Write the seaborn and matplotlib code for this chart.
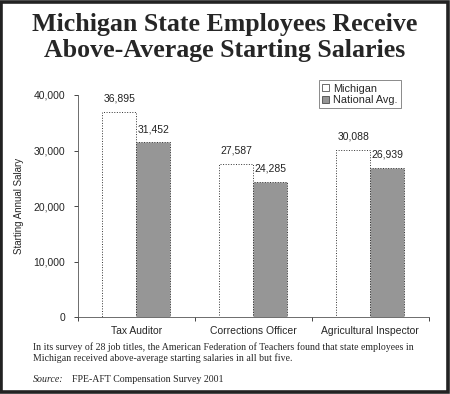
import pandas as pd
import seaborn as sns
import matplotlib.pyplot as plt
from matplotlib.patches import Rectangle
from matplotlib.ticker import FuncFormatter

puestos = ["Tax Auditor", "Corrections Officer", "Agricultural Inspector"]
michigan = [36895, 27587, 30088]
nacional = [31452, 24285, 26939]
series = ["Michigan", "National Avg."]

df = pd.DataFrame({
    "puesto": puestos * 2,
    "serie": [series[0]] * 3 + [series[1]] * 3,
    "salario": michigan + nacional,
})

sns.set_style("ticks")
plt.rcParams["font.family"] = ["Liberation Sans", "DejaVu Sans"]

fig = plt.figure(figsize=(4.5, 3.94), dpi=100)
ax = fig.add_axes([0.173, 0.195, 0.78, 0.564])

ax = sns.barplot(data=df, x="puesto", y="salario", hue="serie",
                 palette={"Michigan": "white", "National Avg.": "#969696"},
                 width=0.58, saturation=1, ax=ax)

for p in ax.patches:
    p.set_edgecolor("#333333")
    p.set_linewidth(0.7)
    p.set_linestyle(":")

for cont in ax.containers:
    ax.bar_label(cont, labels=[f"{v:,.0f}" for v in cont.datavalues],
                 padding=6, fontsize=7.5, color="#222222")

ax.set_ylim(0, 40000)
ax.set_xlim(-0.5, 2.5)
ax.set_yticks([0, 10000, 20000, 30000, 40000])
ax.yaxis.set_major_formatter(FuncFormatter(lambda v, _: f"{v:,.0f}"))
ax.tick_params(axis="y", labelsize=7.5, length=3, width=0.6, pad=6)
ax.tick_params(axis="x", labelsize=7.5, length=0, pad=6)
ax.set_xticks([-0.5, 0.5, 1.5, 2.5], minor=True)
ax.tick_params(axis="x", which="minor", length=3, width=0.6)
ax.set_xlabel("")
ax.set_ylabel("Starting Annual Salary", fontsize=7, labelpad=7)
sns.despine(ax=ax)
for s in ["left", "bottom"]:
    ax.spines[s].set_color("#555555")
    ax.spines[s].set_linewidth(0.6)

leg = ax.legend(loc="upper right", bbox_to_anchor=(0.936, 1.09), fontsize=7.8,
                frameon=True, fancybox=False, edgecolor="#555555",
                handlelength=0.6, handleheight=0.6, handletextpad=0.4,
                borderpad=0.3, labelspacing=0.15)
leg.get_frame().set_linewidth(0.6)
for h in leg.legend_handles:
    h.set_edgecolor("#333333")
    h.set_linewidth(0.5)
    h.set_linestyle("-")

fig.text(0.5, 0.968, "Michigan State Employees Receive\nAbove-Average Starting Salaries",
         ha="center", va="top", fontsize=18.6, fontweight="bold",
         family="Liberation Serif", linespacing=1.17)

fig.text(0.073, 0.132, "In its survey of 28 job titles, the American Federation of Teachers found that state employees in\n"
         "Michigan received above-average starting salaries in all but five.",
         ha="left", va="top", fontsize=7.1, family="Liberation Serif", linespacing=1.25)
fig.text(0.073, 0.025, "Source:", ha="left", va="bottom", fontsize=7.1,
         family="Liberation Serif", style="italic")
fig.text(0.16, 0.025, "FPE-AFT Compensation Survey 2001", ha="left", va="bottom",
         fontsize=7.1, family="Liberation Serif")

fig.patches.append(Rectangle((0.003, 0.004), 0.992, 0.992, transform=fig.transFigure,
                             fill=False, edgecolor="#222222", linewidth=2.6))

fig.savefig("out.png", dpi=100)
